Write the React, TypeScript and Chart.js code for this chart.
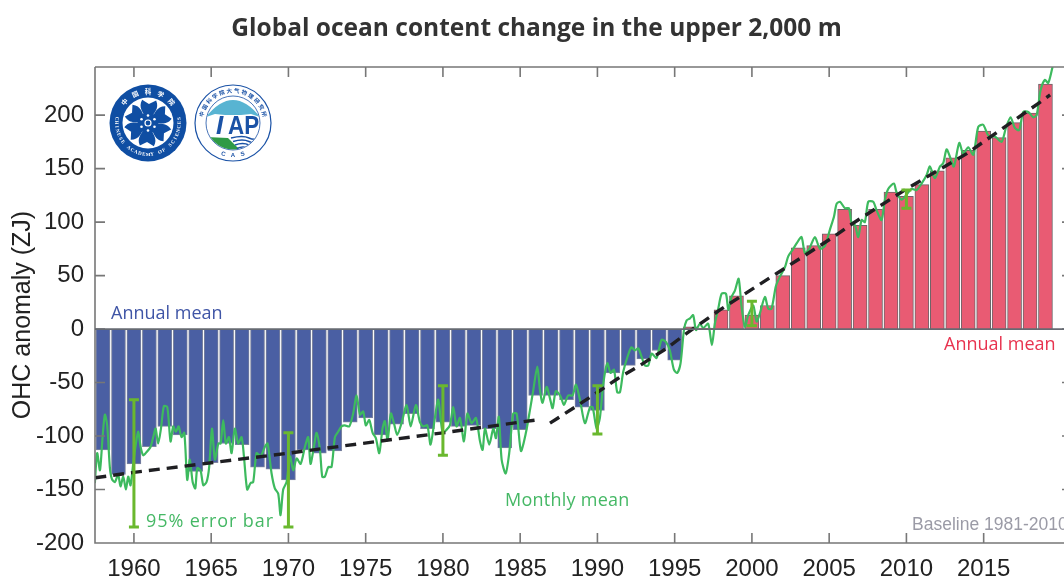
import React, { useEffect, useRef } from "react";
import { Chart, registerables } from "chart.js";

Chart.register(...registerables);

const chartTitle = "Global ocean content change in the upper 2,000 m";
const yAxisLabel = "OHC anomaly (ZJ)";
const xTickValues = [1960, 1965, 1970, 1975, 1980, 1985, 1990, 1995, 2000, 2005, 2010, 2015];
const yTickValues = [-200, -150, -100, -50, 0, 50, 100, 150, 200];

const annualYears = [1958,1959,1960,1961,1962,1963,1964,1965,1966,1967,1968,1969,1970,1971,1972,1973,1974,1975,1976,1977,1978,1979,1980,1981,1982,1983,1984,1985,1986,1987,1988,1989,1990,1991,1992,1993,1994,1995,1996,1997,1998,1999,2000,2001,2002,2003,2004,2005,2006,2007,2008,2009,2010,2011,2012,2013,2014,2015,2016,2017,2018,2019];
const annualValues = [-113,-136,-126,-110,-91,-99,-133,-125,-107,-108,-129,-131,-141,-113,-116,-114,-87,-83,-99,-89,-79,-93,-87,-91,-90,-93,-111,-94,-62,-62,-66,-73,-76,-41,-34,-28,-20,-29,2,1,18,31,13,22,50,76,78,89,112,97,112,128,124,135,148,160,167,185,179,193,202,229];

const monthlyYears = [1957.47,1957.62,1957.8,1957.97,1958.12,1958.27,1958.44,1958.57,1958.77,1958.98,1959.13,1959.31,1959.48,1959.63,1959.78,1959.95,1960.13,1960.28,1960.43,1960.6,1960.82,1961.08,1961.25,1961.4,1961.57,1961.75,1961.94,1962.16,1962.37,1962.54,1962.72,1962.89,1963.08,1963.26,1963.45,1963.62,1963.8,1963.97,1964.1,1964.31,1964.49,1964.7,1964.87,1965.05,1965.24,1965.46,1965.61,1965.78,1965.95,1966.15,1966.32,1966.53,1966.75,1966.97,1967.12,1967.33,1967.55,1967.72,1967.94,1968.2,1968.48,1968.65,1968.91,1969.12,1969.34,1969.49,1969.66,1969.88,1970.1,1970.31,1970.53,1970.79,1971.07,1971.28,1971.43,1971.65,1971.82,1972.04,1972.19,1972.36,1972.58,1972.79,1973.01,1973.22,1973.44,1973.65,1973.94,1974.19,1974.41,1974.63,1974.84,1975.01,1975.23,1975.45,1975.66,1975.88,1976.09,1976.24,1976.42,1976.63,1976.83,1977.04,1977.32,1977.65,1977.91,1978.25,1978.51,1978.73,1978.99,1979.2,1979.48,1979.7,1979.98,1980.24,1980.45,1980.67,1980.88,1981.1,1981.36,1981.58,1981.86,1982.14,1982.4,1982.57,1982.72,1983,1983.26,1983.43,1983.62,1983.8,1984.06,1984.29,1984.55,1984.77,1985.05,1985.37,1985.63,1985.85,1986.11,1986.28,1986.45,1986.71,1986.93,1987.1,1987.31,1987.62,1987.83,1988.11,1988.39,1988.61,1988.87,1989.19,1989.52,1989.69,1989.95,1990.16,1990.38,1990.64,1990.85,1991.07,1991.28,1991.46,1991.67,1991.99,1992.21,1992.43,1992.64,1992.86,1993.07,1993.29,1993.51,1993.83,1994.15,1994.43,1994.69,1994.95,1995.17,1995.38,1995.6,1995.77,1995.99,1996.2,1996.38,1996.63,1996.85,1997.17,1997.41,1997.6,1997.82,1998.04,1998.32,1998.47,1998.68,1998.9,1999.14,1999.33,1999.55,1999.76,2000.09,2000.3,2000.52,2000.84,2001.06,2001.27,2001.55,2001.81,2002.14,2002.35,2002.63,2002.89,2003.21,2003.43,2003.71,2004.08,2004.4,2004.73,2005.05,2005.31,2005.48,2005.7,2006.02,2006.28,2006.45,2006.67,2006.88,2007.1,2007.31,2007.53,2007.85,2008.07,2008.39,2008.61,2008.82,2009.19,2009.36,2009.69,2009.97,2010.33,2010.66,2010.98,2011.31,2011.52,2011.84,2012.17,2012.38,2012.6,2012.82,2013.07,2013.42,2013.68,2014,2014.33,2014.65,2014.97,2015.3,2015.73,2016.16,2016.44,2016.74,2017.02,2017.3,2017.56,2017.89,2018.21,2018.43,2018.68,2018.96,2019.18,2019.46];
const monthlyValues = [-144,-116,-132,-101,-80,-90,-129,-140,-143,-136,-147,-138,-150,-138,-146,-126,-107,-96,-110,-118,-115,-110,-101,-93,-107,-93,-72,-73,-105,-91,-96,-91,-101,-97,-141,-122,-143,-149,-130,-132,-146,-143,-129,-93,-122,-107,-107,-85,-107,-101,-116,-93,-107,-101,-119,-150,-144,-143,-116,-119,-110,-107,-135,-149,-154,-174,-150,-143,-119,-132,-121,-126,-110,-101,-126,-110,-97,-113,-138,-138,-129,-129,-101,-96,-91,-90,-91,-79,-62,-80,-77,-90,-85,-97,-102,-116,-93,-86,-104,-79,-88,-99,-88,-71,-91,-71,-87,-91,-90,-108,-83,-66,-97,-94,-90,-73,-91,-83,-105,-79,-88,-83,-105,-113,-93,-108,-93,-102,-82,-122,-135,-116,-79,-79,-114,-97,-76,-57,-35,-57,-69,-54,-65,-74,-58,-63,-71,-62,-62,-52,-66,-88,-73,-73,-93,-83,-51,-32,-41,-38,-59,-59,-40,-24,-17,-20,-18,-26,-34,-34,-23,-27,-10,-12,-20,-38,-41,-32,-1,8,10,13,-1,5,1,5,-15,5,19,33,33,18,30,36,47,21,2,13,22,7,15,30,19,19,40,49,58,68,74,80,86,71,75,86,75,78,93,105,117,119,113,113,99,97,86,102,100,119,119,111,102,121,131,136,128,121,125,131,130,136,144,152,141,152,155,168,161,152,174,164,170,163,189,191,181,180,175,188,198,188,186,203,203,198,200,223,233,230,245];

const trendYears = [1957.5,1960,1970,1977.9,1980,1985,1986.06,1986.5,1986.93,1987.57,1988.65,1989.6,1991.35,1992.75,1994.48,1995.77,1996.85,1997.93,2001.6,2005.27,2006.34,2010,2013.9,2018.64,2019.3];
const trendValues = [-139,-134,-116,-101,-97,-87,-85,null,-88,-82,-72,-63,-46,-34,-18,-4,7,18,52,86,97,131,164,212,219];

const errorYears = [1960, 1970, 1980, 1990, 2000, 2010];
const errorLows = [-185, -185, -118, -98, 3, 113];
const errorHighs = [-66, -97, -53, -53, 26, 130];

const BLUE = "#4a5fa3";
const RED = "#e95b73";
const GREEN_LINE = "#3dba5e";
const GREEN_BAR = "#6ab82e";
const AXIS = "#777777";

function arcText(ctx: CanvasRenderingContext2D, s: string, cx: number, cy: number, r: number, mid: number, step: number, inward: boolean) {
  const chars = Array.from(s);
  chars.forEach((c, i) => {
    const a = mid + (i - (chars.length - 1) / 2) * step;
    ctx.save();
    ctx.translate(cx + r * Math.cos(a), cy + r * Math.sin(a));
    ctx.rotate(inward ? a + Math.PI / 2 : a - Math.PI / 2);
    ctx.textAlign = "center";
    ctx.textBaseline = "middle";
    ctx.fillText(c, 0, 0);
    ctx.restore();
  });
}

function drawCasLogo(ctx: CanvasRenderingContext2D, cx: number, cy: number) {
  const navy = "#0f4ea3";
  ctx.fillStyle = navy;
  ctx.beginPath(); ctx.arc(cx, cy, 38.5, 0, Math.PI * 2); ctx.fill();
  ctx.fillStyle = "#ffffff";
  ctx.beginPath(); ctx.arc(cx, cy, 25.5, 0, Math.PI * 2); ctx.fill();
  ctx.font = "bold 6.5px 'Noto Sans CJK SC'";
  arcText(ctx, "中国科学院", cx, cy, 31.5, -Math.PI / 2, 0.42, true);
  ctx.font = "bold 5px 'Liberation Serif'";
  arcText(ctx, "CHINESE ACADEMY OF SCIENCES", cx, cy, 31.5, Math.PI / 2, -0.132, false);
  ctx.fillStyle = navy;
  for (let k = 0; k < 6; k++) {
    ctx.save();
    ctx.translate(cx, cy);
    ctx.rotate((k * Math.PI) / 3 + 0.05);
    ctx.beginPath();
    ctx.moveTo(-3, -6);
    ctx.bezierCurveTo(-5, -10, -11, -15, -7, -23);
    ctx.lineTo(0, -19);
    ctx.lineTo(7, -23);
    ctx.bezierCurveTo(11, -15, 5, -10, 3, -6);
    ctx.closePath();
    ctx.fill();
    ctx.restore();
  }
  ctx.beginPath(); ctx.arc(cx, cy, 10.5, 0, Math.PI * 2); ctx.fill();
  ctx.fillStyle = "#ffffff";
  for (let k = 0; k < 6; k++) {
    const a = (k * Math.PI) / 3 + Math.PI / 6;
    ctx.beginPath(); ctx.arc(cx + 7.5 * Math.cos(a), cy + 7.5 * Math.sin(a), 1.3, 0, Math.PI * 2); ctx.fill();
  }
  ctx.strokeStyle = "#ffffff"; ctx.lineWidth = 1.2;
  ctx.beginPath(); ctx.arc(cx, cy, 3, 0, Math.PI * 2); ctx.stroke();
}

function drawIapLogo(ctx: CanvasRenderingContext2D, cx: number, cy: number) {
  const navy = "#1a52a6";
  ctx.fillStyle = "#ffffff";
  ctx.beginPath(); ctx.arc(cx, cy, 38.5, 0, Math.PI * 2); ctx.fill();
  ctx.strokeStyle = navy; ctx.lineWidth = 1.2;
  ctx.beginPath(); ctx.arc(cx, cy, 38, 0, Math.PI * 2); ctx.stroke();
  ctx.lineWidth = 0.8;
  ctx.beginPath(); ctx.arc(cx, cy, 27, 0, Math.PI * 2); ctx.stroke();
  ctx.fillStyle = navy;
  ctx.font = "bold 5.5px 'Noto Sans CJK SC'";
  arcText(ctx, "中国科学院大气物理研究所", cx, cy, 32.5, -Math.PI / 2, 0.235, true);
  ctx.font = "bold 6px 'Liberation Sans'";
  arcText(ctx, "CAS", cx, cy, 32.5, Math.PI / 2, -0.3, false);
  ctx.save();
  ctx.beginPath(); ctx.arc(cx, cy, 26.5, 0, Math.PI * 2); ctx.clip();
  ctx.fillStyle = "#58b4d2";
  ctx.beginPath();
  ctx.moveTo(cx - 27, cy - 6);
  ctx.quadraticCurveTo(cx, cy - 40, cx + 27, cy - 6);
  ctx.lineTo(cx + 18, cy - 9);
  ctx.lineTo(cx + 8, cy - 8);
  ctx.lineTo(cx - 8, cy - 8);
  ctx.lineTo(cx - 18, cy - 9);
  ctx.closePath();
  ctx.fill();
  ctx.fillStyle = "#2f9a46";
  ctx.beginPath();
  ctx.moveTo(cx - 27, cy + 14);
  ctx.lineTo(cx - 5, cy + 15);
  ctx.lineTo(cx + 8, cy + 28);
  ctx.lineTo(cx - 27, cy + 28);
  ctx.closePath();
  ctx.fill();
  ctx.strokeStyle = navy; ctx.lineWidth = 1.4;
  for (let k = 0; k < 4; k++) {
    const y = cy + 15 + k * 3.5;
    ctx.beginPath();
    ctx.moveTo(cx - 2 + k * 2, y);
    ctx.quadraticCurveTo(cx + 10, y - 3, cx + 16, y);
    ctx.quadraticCurveTo(cx + 22, y + 3, cx + 28, y - 1);
    ctx.stroke();
  }
  ctx.restore();
  ctx.fillStyle = navy;
  ctx.textAlign = "left";
  ctx.textBaseline = "alphabetic";
  ctx.font = "italic bold 26px 'Liberation Sans'";
  ctx.fillText("I", cx - 17, cy + 11);
  ctx.save();
  ctx.translate(cx - 5, cy + 11);
  ctx.scale(0.86, 1);
  ctx.font = "bold 26px 'Liberation Sans'";
  ctx.fillText("AP", 0, 0);
  ctx.restore();
}

const decorPlugin = {
  id: "decor",
  afterDatasetsDraw(chart: any) {
    const { ctx, chartArea: a, scales } = chart;
    const x = scales.x;
    const y = scales.y;
    ctx.save();

    // 95% error bars
    ctx.strokeStyle = GREEN_BAR;
    ctx.lineWidth = 3;
    errorYears.forEach((yr, i) => {
      const px = x.getPixelForValue(yr);
      const lo = y.getPixelForValue(errorLows[i]);
      const hi = y.getPixelForValue(errorHighs[i]);
      ctx.beginPath();
      ctx.moveTo(px, lo); ctx.lineTo(px, hi);
      ctx.moveTo(px - 5, lo); ctx.lineTo(px + 5, lo);
      ctx.moveTo(px - 5, hi); ctx.lineTo(px + 5, hi);
      ctx.stroke();
    });

    // frame and inward ticks
    ctx.strokeStyle = AXIS;
    ctx.lineWidth = 1.6;
    ctx.beginPath();
    ctx.moveTo(a.left, a.top); ctx.lineTo(a.left, a.bottom); ctx.lineTo(a.right, a.bottom);
    ctx.moveTo(a.left, a.top); ctx.lineTo(a.right, a.top);
    xTickValues.forEach((t) => {
      const px = x.getPixelForValue(t);
      ctx.moveTo(px, a.bottom); ctx.lineTo(px, a.bottom - 10);
      ctx.moveTo(px, a.top); ctx.lineTo(px, a.top + 10);
    });
    yTickValues.forEach((t) => {
      const py = y.getPixelForValue(t);
      ctx.moveTo(a.left, py); ctx.lineTo(a.left + 10, py);
      ctx.moveTo(a.right - 2, py); ctx.lineTo(a.right, py);
    });
    ctx.stroke();
    ctx.strokeStyle = "#666a72";
    ctx.lineWidth = 1.8;
    ctx.beginPath();
    const zero = y.getPixelForValue(0);
    ctx.moveTo(a.left, zero); ctx.lineTo(a.right, zero);
    ctx.stroke();

    // annotations
    ctx.textBaseline = "middle";
    ctx.textAlign = "left";
    ctx.font = "18px 'Open Sans'";
    ctx.fillStyle = "#3f55a6";
    ctx.fillText("Annual mean", 111, 314);
    ctx.fillStyle = "#e8334f";
    ctx.fillText("Annual mean", 944, 345);
    ctx.fillStyle = "#45b865";
    (ctx as any).letterSpacing = "0.9px";
    ctx.fillText("95% error bar", 146, 522);
    (ctx as any).letterSpacing = "0.25px";
    ctx.fillText("Monthly mean", 505, 501);
    (ctx as any).letterSpacing = "0px";
    ctx.font = "17.5px 'Liberation Sans'";
    ctx.fillStyle = "#9b9ba6";
    ctx.fillText("Baseline 1981-2010", 912, 525);

    // axis title
    ctx.save();
    ctx.translate(23, 315);
    ctx.rotate(-Math.PI / 2);
    ctx.textAlign = "center";
    ctx.font = "25px 'Liberation Sans'";
    ctx.fillStyle = "#222222";
    ctx.fillText(yAxisLabel, 0, 0);
    ctx.restore();

    drawCasLogo(ctx, 148, 123);
    drawIapLogo(ctx, 233, 123);
    ctx.restore();
  },
};

export default function App() {
  const ref = useRef<HTMLCanvasElement | null>(null);
  useEffect(() => {
    document.body.style.margin = "0";
    document.body.style.background = "#ffffff";
    const chart = new Chart(ref.current as HTMLCanvasElement, {
      type: "bar",
      data: {
        datasets: [
          {
            type: "line",
            label: "Trend",
            data: trendYears.map((v, i) => ({ x: v, y: trendValues[i] })),
            borderColor: "#1f1f22",
            borderWidth: 3.4,
            borderDash: [11, 7],
            pointRadius: 0,
            spanGaps: false,
            order: 1,
          },
          {
            type: "line",
            label: "Monthly mean",
            data: monthlyYears.map((v, i) => ({ x: v, y: monthlyValues[i] })),
            borderColor: GREEN_LINE,
            borderWidth: 2.2,
            borderJoinStyle: "round",
            pointRadius: 0,
            tension: 0.25,
            order: 2,
          },
          {
            type: "bar",
            label: "Annual mean",
            data: annualYears.map((v, i) => ({ x: v, y: annualValues[i] })),
            backgroundColor: annualValues.map((v) => (v < 0 ? BLUE : RED)),
            borderColor: annualValues.map((v) => (v < 0 ? "#7d849e" : "#6e6468")),
            borderWidth: 1,
            barThickness: 14,
            order: 3,
          },
        ] as any,
      },
      options: {
        animation: false,
        responsive: false,
        maintainAspectRatio: false,
        layout: { padding: { left: 9, right: 0, top: 0, bottom: 0 } },
        plugins: {
          legend: { display: false },
          tooltip: { enabled: false },
          title: {
            display: true,
            text: chartTitle,
            color: "#333333",
            font: { family: "Open Sans", size: 24.5, weight: "bold", lineHeight: 1.2 },
            padding: { top: 14, bottom: 23.6 },
          },
        },
        scales: {
          x: {
            type: "linear",
            min: 1957.48,
            max: 2020.2,
            offset: false,
            grid: { display: false, drawTicks: false },
            border: { display: false },
            afterBuildTicks: (s: any) => { s.ticks = xTickValues.map((value) => ({ value })); },
            afterFit: (s: any) => { s.height = 35; },
            ticks: {
              autoSkip: false,
              maxRotation: 0,
              padding: 12,
              color: "#222222",
              font: { family: "Liberation Sans", size: 24 },
              callback: (v: any) => String(v),
            },
          },
          y: {
            type: "linear",
            min: -200,
            max: 245,
            grid: { display: false, drawTicks: false },
            border: { display: false },
            afterBuildTicks: (s: any) => { s.ticks = yTickValues.map((value) => ({ value })); },
            afterFit: (s: any) => { s.width = 86; },
            ticks: {
              autoSkip: false,
              padding: 11,
              color: "#222222",
              font: { family: "Liberation Sans", size: 24 },
            },
          },
        },
      },
      plugins: [decorPlugin],
    } as any);
    return () => chart.destroy();
  }, []);
  return <canvas ref={ref} width={1064} height={578} style={{ display: "block" }} />;
}
